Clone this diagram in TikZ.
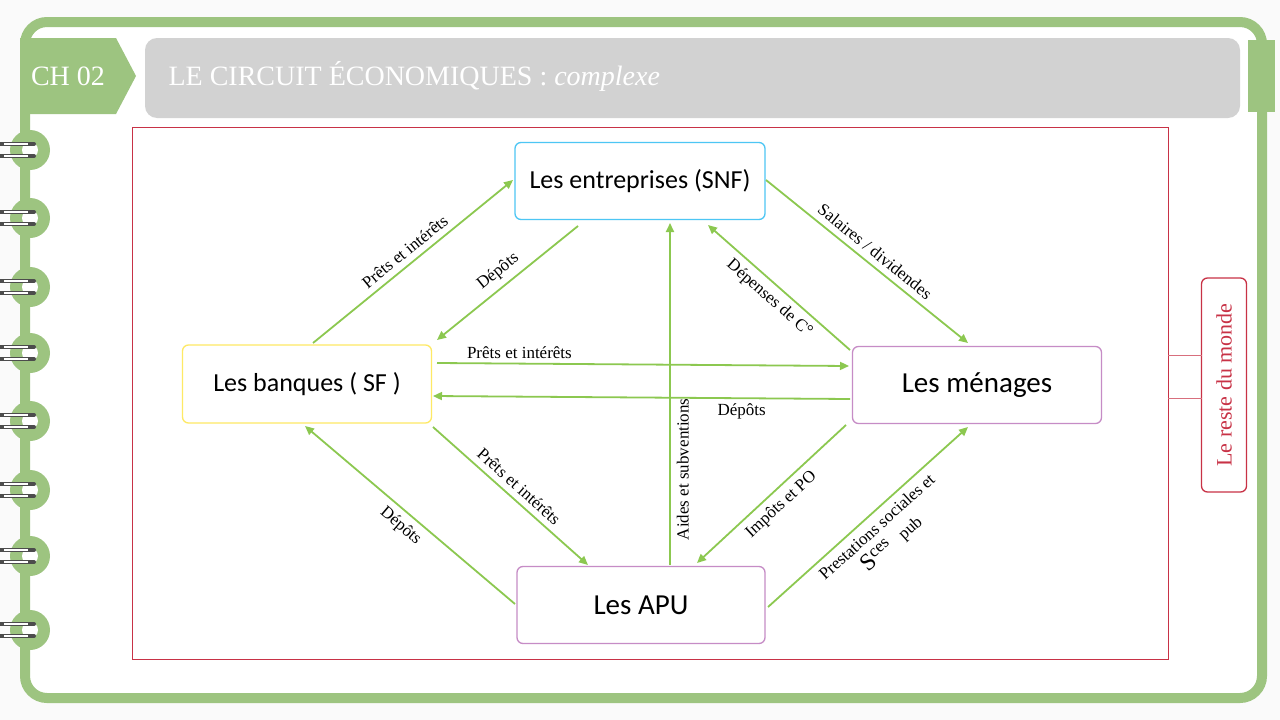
\documentclass[tikz,border=0pt]{standalone}
\usepackage{fontspec}
\setmainfont{Carlito}
\newfontfamily\hdr{Liberation Serif}
\usetikzlibrary{arrows.meta}
\definecolor{gfr}{RGB}{157,196,128}
\definecolor{arr}{RGB}{140,200,80}
\definecolor{rd}{RGB}{200,50,70}
\begin{document}
\begin{tikzpicture}[x=1pt,y=-1pt,
 box/.style={draw,rounded corners=6pt,line width=1.3pt,fill=white,inner sep=0pt},
 ar/.style={draw=arr,line width=1.8pt,-{Triangle[length=9pt,width=8pt]}},
 lb/.style={font=\hdr\fontsize{17}{19}\selectfont,inner sep=1pt}]
\useasboundingbox (0,0) rectangle (1280,720);
\fill[white!96!gray] (0,0) rectangle (1280,720);
% frame
\draw[gfr,line width=10pt,rounded corners=22pt,fill=white] (25,22) rectangle (1262,698);
% spiral rings
\foreach \yy in {150,218,287,353,421,490,556,630}{
 \fill[gfr] (30,\yy) circle (20pt);
 \fill[white] (30,\yy) circle (8pt);
 \draw[gray!60!black,line width=4pt,line cap=round] (0,\yy-6) -- (34,\yy-6);
 \draw[gray!60!black,line width=4pt,line cap=round] (0,\yy+6) -- (34,\yy+6);
 \draw[white,line width=1.5pt] (4,\yy-6) -- (28,\yy-6);
 \draw[white,line width=1.5pt] (4,\yy+6) -- (28,\yy+6);
}
% header
\fill[gfr] (20,38) -- (116,38) -- (136,76) -- (116,114) -- (20,114) -- cycle;
\node[text=white,font=\hdr\fontsize{28}{30}\selectfont] (ch) at (68,76) {CH 02};
\fill[gray!35,rounded corners=12pt] (145,38) rectangle (1240,118);
\node[anchor=west,text=white,font=\hdr\fontsize{28}{30}\selectfont] (tt) at (165,76) {LE CIRCUIT ÉCONOMIQUES : \textit{complexe}};
\fill[gfr] (1248,40) rectangle (1275,112);
% red frame
\draw[rd,line width=0.8pt] (132,127) rectangle (1168,659);
% nodes
\node[box,draw=cyan!70,minimum width=250pt,minimum height=77pt,font=\fontsize{26}{28}\selectfont] (E) at (640,181) {Les entreprises (SNF)};
\node[box,draw=yellow!80!orange!60,minimum width=249pt,minimum height=78pt,font=\fontsize{26}{28}\selectfont] (B) at (307,384) {Les banques ( SF )};
\node[box,draw=violet!45,minimum width=249pt,minimum height=77pt,font=\fontsize{29}{30}\selectfont] (M) at (977,385) {Les ménages};
\node[box,draw=violet!45,minimum width=248pt,minimum height=77pt,font=\fontsize{29}{30}\selectfont] (A) at (641,605) {Les APU};
\node[draw=rd,line width=1.3pt,rounded corners=6pt,minimum width=45pt,minimum height=214pt,inner sep=0pt] (W) at (1224,385) {};
\node[rotate=90,text=rd,font=\hdr\fontsize{22}{24}\selectfont] (Wt) at (1224,385) {Le reste du monde};
\draw[rd!70,line width=0.8pt] (1168,355) -- (1202,355) (1168,398) -- (1202,398);
% connectors
\draw[ar] (313,343) -- (513,180) node[lb,midway,sloped,above=5pt] {Prêts et intérêts};
\draw[ar] (578,226) -- (437,340) node[lb,midway,sloped,above=5pt] {Dépôts};
\draw[ar] (766,180) -- (968,343) node[lb,midway,sloped,above=5pt] {Salaires / dividendes};
\draw[ar] (850,350) -- (708,225) node[lb,midway,sloped,below=5pt] {Dépenses de C°};
\draw[ar] (437,363) -- (849,366) node[lb,pos=0.2,above=3pt] {Prêts et intérêts};
\draw[ar] (850,399) -- (433,396) node[lb,pos=0.26,below=4pt] {Dépôts};
\draw[ar] (433,427) -- (588,565) node[lb,midway,sloped,above=5pt] {Prêts et intérêts};
\draw[ar] (515,604) -- (305,426) node[lb,midway,sloped,below=5pt] {Dépôts};
\draw[ar] (670,565) -- (670,223) node[lb,pos=0.28,sloped,below=5pt] {Aides et subventions};
\draw[ar] (846,425) -- (697,563) node[lb,midway,sloped,below=5pt] {Impôts et PO};
\draw[ar] (768,607) -- (968,427) node[lb,midway,sloped,below=5pt,align=center] {Prestations sociales et\\[4pt] {\fontsize{24}{24}\selectfont S}\raisebox{7pt}{ces}\ \ \ pub};
\end{tikzpicture}
\end{document}
